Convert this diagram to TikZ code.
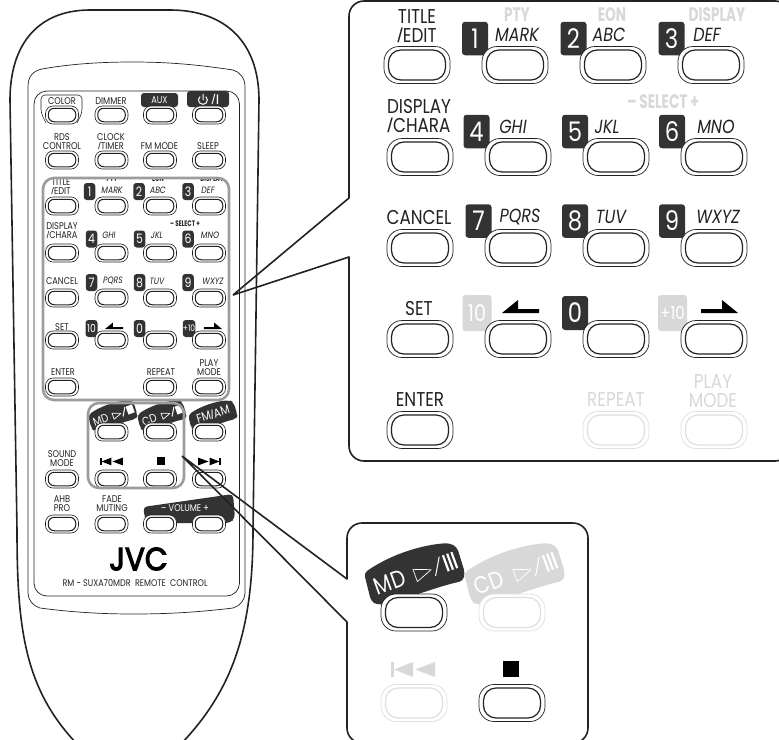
\documentclass[tikz,border=0pt]{standalone}
\usepackage{fontspec}
\setmainfont{Poppins}
\newfontfamily\fut[FakeStretch=0.84]{Poppins}
\newfontfamily\futb[FakeStretch=0.7]{Poppins}
\newfontfamily\jvcf[FakeBold=3.5,FakeStretch=0.92]{Poppins}
\newfontfamily\slf{Liberation Sans}
\newcommand\Sl{{\slf/}}
\definecolor{ink}{HTML}{222222}
\definecolor{tagdark}{HTML}{333333}
\definecolor{ghost}{HTML}{D8D8D8}
\definecolor{ghostline}{HTML}{DFDFDF}
\definecolor{frameg}{HTML}{9C9C9C}
\tikzset{
  lab/.style={inner sep=0pt,align=center,text=ink},
  big/.style={font=\fut\fontsize{20}{19}\selectfont},
  bigit/.style={font=\fut\itshape\fontsize{19}{19}\selectfont},
  bigbold/.style={font=\futb\bfseries\fontsize{19.5}{18}\selectfont,text=ghost},
  sm/.style={font=\fut\fontsize{9.8}{9}\selectfont},
  smit/.style={font=\fut\itshape\fontsize{9.2}{9}\selectfont},
  smbold/.style={font=\futb\bfseries\fontsize{8}{9}\selectfont},
  ghosted/.style={text=ghost},
  bigout/.style={draw=#1,line width=.7pt,fill=white,rectangle,minimum width=66pt,minimum height=37pt,rounded corners=15pt,inner sep=0pt},
  bigin/.style={draw=#1,line width=1.2pt,rectangle,minimum width=57pt,minimum height=30pt,rounded corners=12.5pt,inner sep=0pt},
  smout/.style={draw=ink,line width=.6pt,fill=white,rectangle,minimum width=33pt,minimum height=18pt,rounded corners=7.5pt,inner sep=0pt},
  smin/.style={draw=ink,line width=1pt,rectangle,minimum width=27.5pt,minimum height=13.5pt,rounded corners=6pt,inner sep=0pt},
  keytag/.style={rectangle,rounded corners=3pt,inner sep=0pt,text=white,align=center},
  bigline/.style={draw=ink,line width=1.6pt,line join=round},
  framing/.style={draw=frameg,line width=2.6pt,rounded corners=11pt},
  thinline/.style={draw=ink,line width=.7pt}
}
\newcounter{lb}
\newcommand\lbl[4][]{\stepcounter{lb}\node[lab,#1] (t\arabic{lb}) at (#2,#3) {#4};}
\newcommand\bigbtn[4]{\node[bigout=#4] (#1) at (#2,#3) {};\node[bigin=#4] (#1i) at (#2,#3) {};}
\newcommand\smbtn[3]{\node[smout] (#1) at (#2,#3) {};\node[smin] (#1i) at (#2,#3) {};}
% name x y w h fill text size
\newcommand\keyt[8]{\node[keytag,fill=#6,minimum width=#4pt,minimum height=#5pt,font=\fut\fontsize{#8}{#8}\selectfont] (#1) at (#2,#3) {#7};}
\newcommand\arrowL[3]{\fill[black] (#1,#2) ++(0,0) -- ++(16*#3,-13*#3) -- ++(0,9*#3) -- ++(21*#3,0) -- ++(0,4*#3) -- cycle;}
\newcommand\arrowR[3]{\fill[black] (#1,#2) -- ++(-16*#3,-13*#3) -- ++(0,9*#3) -- ++(-21*#3,0) -- ++(0,4*#3) -- cycle;}
% x y scale(sign = direction) colour
\newcommand\skipicon[4]{\begin{scope}[shift={(#1,#2)},xscale=#3,yscale=#3]
 \fill[#4] (0,-7.5) rectangle (3,7.5);
 \fill[#4] (3,0) -- (22,-7.5) -- (22,7.5) -- cycle;
 \fill[#4] (24,0) -- (44,-7.5) -- (44,7.5) -- cycle;
\end{scope}}
\newcommand\blobshape[1]{\fill[#1,rounded corners=4pt] (-51,-2) .. controls (-25,-20) and (5,-30) .. (34,-32) -- (42,-28) -- (50,-2) -- (48,6) .. controls (20,12) and (-10,25) .. (-38,30) -- (-44,26) -- cycle;}
% name x y scale fill fg text
\newcommand\playtag[7]{\begin{scope}[shift={(#2,#3)},scale=#4]
 \blobshape{#5}
 \begin{scope}[rotate=20,transform shape]
  \node[inner sep=0pt,anchor=base west,text=#6,font=\fut\fontsize{24}{24}\selectfont] (#1) at (-42,6.5) {#7};
  \draw[#6,line width=.7pt,line join=round] (0,-6) -- (0,7) -- (17,.5) -- cycle;
  \draw[#6,line width=1pt] (19,8) -- (29,-9);
  \draw[#6,line width=2.2pt] (33,-9) -- (33,8) (37.5,-9) -- (37.5,8) (42,-9) -- (42,8);
 \end{scope}
\end{scope}}
\begin{document}
\begin{tikzpicture}[x=1pt,y=-1pt]
\useasboundingbox (0,0) rectangle (779,739);
\fill[white] (0,0) rectangle (779,739);
% ---------- remote body
\draw[bigline] (78,745) .. controls (25,690) and (17,630) .. (17,530) -- (10,100) .. controls (10,42) and (40,10) .. (90,10) -- (170,10) .. controls (225,10) and (259,42) .. (259,100) -- (253,530) .. controls (253,630) and (233,690) .. (180,745);
\draw[thinline] (28,593) -- (28,87) .. controls (28,76) and (33,71) .. (42,69) .. controls (70,64) and (100,62) .. (133,62) .. controls (170,62) and (200,65) .. (233,70) .. controls (240,72) and (245,78) .. (245,87) -- (245,593) .. controls (245,600) and (240,606) .. (233,608) .. controls (200,612) and (170,614) .. (133,614) .. controls (100,614) and (70,612) .. (40,608) .. controls (33,606) and (28,600) .. (28,593) -- cycle;
\draw[thinline,rounded corners=13pt] (34,91) rectangle (239.5,596);
% ---------- remote tags
\draw[draw=ink,line width=.6pt,rounded corners=4pt] (46,123) -- (41,113) -- (41,95) -- (82,95) -- (82,113) -- (77,123);
\keyt{aux}{159.5}{100}{37}{14}{tagdark}{AUX}{9.8}
\keyt{pow}{208}{99}{42}{16}{tagdark}{}{9}
\draw[white,line width=1pt] (205.8,96.6) arc[start angle=-50,end angle=230,radius=4.4] (203,94) -- (203,100);
\lbl[font=\slf\fontsize{14}{14}\selectfont,text=white]{215.5}{99}{/I}
\foreach \n/\d/\x/\y in {a1/1/89.5/191.5,a2/2/139/191.5,a3/3/188/191.5,a4/4/91.5/239,a5/5/139.5/239,a6/6/188/239,a7/7/91.5/282.5,a8/8/139.5/282.5,a9/9/188/282.5,a0/0/139.5/328.5}
  {\keyt{\n}{\x}{\y}{11.5}{17}{tagdark}{\d}{13}}
\keyt{a10}{91.5}{328.5}{12}{17}{tagdark}{10}{11}
\keyt{a11}{189}{328.5}{12.5}{17}{tagdark}{+10}{9}
\playtag{rmd}{113}{416}{.49}{tagdark}{white}{MD}
\playtag{rcd}{162}{416}{.49}{tagdark}{white}{CD}
\begin{scope}[shift={(213,416)},scale=.49]\blobshape{tagdark}\end{scope}
\lbl[font=\fut\fontsize{12.5}{12.5}\selectfont,text=white,rotate=17]{213}{414}{FM{\slf/}AM}
\fill[tagdark,rounded corners=4pt] (143,507) -- (233,494) -- (235,518) -- (230,523) -- (146,523) -- cycle;
% ---------- remote buttons
\foreach \r/\y in {a/115,b/160,c/206,d/253,e/298,f/340,j/524}{
  \foreach \c/\x in {1/62,2/111.5,3/160,4/209}{\smbtn{r\r\c}{\x}{\y}}}
\foreach \c/\x in {1/62,3/160,4/209}{\smbtn{rh\c}{\x}{387}}
\foreach \c/\x in {2/111.5,3/160,4/209}{\smbtn{rg\c}{\x}{432}}
\foreach \c/\x in {1/62,2/111.5,3/160,4/209}{\smbtn{ri\c}{\x}{479}}
% ---------- remote labels
\lbl[sm]{62}{101}{COLOR}
\lbl[sm]{111}{101}{DIMMER}
\lbl[sm]{62}{141.5}{RDS\\CONTROL}
\lbl[sm]{111}{141.5}{CLOCK\\\Sl TIMER}
\lbl[sm]{159.5}{146}{FM MODE}
\lbl[sm]{208}{146}{SLEEP}
\begin{scope}
\clip (40,178) rectangle (240,200);
\lbl[sm]{61}{186.5}{TITLE\\\Sl EDIT}
\lbl[smbold]{112}{179}{PTY}
\lbl[smbold]{158}{179}{EON}
\lbl[smbold]{212}{179}{DISPLAY}
\end{scope}
\lbl[smit]{112}{190}{MARK}
\lbl[smit]{158}{190}{ABC}
\lbl[smit]{208}{190}{DEF}
\lbl[sm]{62}{231}{DISPLAY\\\Sl CHARA}
\lbl[smit]{109}{235}{GHI}
\lbl[smit]{157}{235}{JKL}
\lbl[smit]{210}{235}{MNO}
\lbl[smbold]{185}{224}{– SELECT +}
\lbl[sm]{62}{281}{CANCEL}
\lbl[smit]{113}{281}{PQRS}
\lbl[smit]{157}{281}{TUV}
\lbl[smit]{213}{281}{WXYZ}
\lbl[sm]{62}{327}{SET}
\arrowL{105}{329}{.49}
\arrowR{222}{329}{.49}
\lbl[sm]{63}{372}{ENTER}
\lbl[sm]{161}{372}{REPEAT}
\lbl[sm]{209}{367.5}{PLAY\\MODE}
\lbl[sm]{62}{458.5}{SOUND\\MODE}
\skipicon{100}{461.5}{.52}{black}
\fill[black] (157,457) rectangle (165,465);
\skipicon{221}{461.5}{-.52}{black}
\lbl[sm]{62}{504}{AHB\\PRO}
\lbl[sm]{112}{504}{FADE\\MUTING}
\lbl[sm,text=white]{185}{508}{– VOLUME +}
\lbl[font=\jvcf\fontsize{32}{32}\selectfont,text=black]{138.5}{559}{JVC}
\lbl[font=\fut\fontsize{9.6}{9.6}\selectfont]{135}{583}{RM - SUXA70MDR\ \ REMOTE\ \ CONTROL}
% ---------- selection frames
\draw[framing] (43,178) rectangle (229,400);
\draw[framing] (88,403) rectangle (184,488);
% ---------- callouts and panels
\coordinate (tipA) at (233,295);
\coordinate (tipB) at (182,456);
\coordinate (a1) at (349,198);
\coordinate (a2) at (349,257);
\coordinate (b1) at (347,579);
\coordinate (b2) at (347,622);
\draw[bigline] (tipA) -- (a1) [rounded corners=15pt] -- (349,1) -- (790,1) -- (790,461) -- (349,461) [sharp corners] -- (a2) -- (tipA);
\draw[bigline] (tipB) -- (b1) [rounded corners=15pt] -- (347,523) -- (588,523) -- (588,743) -- (347,743) [sharp corners] -- (b2) -- (tipB);
% ---------- big panel
\foreach \n/\d/\x/\y in {p1/1/475/38.5,p2/2/573.5/38.5,p3/3/671.5/38.5,p4/4/476.5/131.5,p5/5/575/131.5,p6/6/672/131.5,p7/7/478.5/221,p8/8/575/221,p9/9/672/221}
  {\keyt{\n}{\x}{\y}{26}{33.5}{tagdark}{\d}{27}}
\keyt{p0}{575}{313}{26}{34}{tagdark}{0}{27}
\keyt{p10}{477}{313}{29}{36}{ghost}{10}{23}
\keyt{p11}{672.5}{313}{29}{36}{ghost}{+10}{18}
\foreach \n/\x/\y in {q1/417/65,q2/515/65,q3/613/65,q4/711/65,q5/420/157,q6/518/157,q7/616/157,q8/714/157,q9/420/248,q10/518/248,q11/616/248,q12/714/248,q13/420/339,q14/518/339,q15/616/339,q16/714/339,q17/420/430}
  {\bigbtn{\n}{\x}{\y}{ink}}
\bigbtn{q18}{616}{430}{ghostline}
\bigbtn{q19}{714}{430}{ghostline}
\lbl[big]{417}{26.5}{TITLE\\\Sl EDIT}
\lbl[bigbold]{517}{15}{PTY}
\lbl[bigbold]{612}{15}{EON}
\lbl[bigbold]{717}{15}{DISPLAY}
\lbl[bigit]{517}{35}{MARK}
\lbl[bigit]{609}{35}{ABC}
\lbl[bigit]{707}{35}{DEF}
\lbl[big]{419}{116}{DISPLAY\\\Sl CHARA}
\lbl[bigit]{513}{127}{GHI}
\lbl[bigit]{607}{127}{JKL}
\lbl[bigit]{716}{127}{MNO}
\lbl[bigbold]{663}{102}{– SELECT +}
\lbl[big]{419}{217}{CANCEL}
\lbl[bigit]{520}{217}{PQRS}
\lbl[bigit]{611}{217}{TUV}
\lbl[bigit]{718}{217}{WXYZ}
\lbl[big]{419}{309}{SET}
\arrowL{502}{313}{1}
\arrowR{738}{313}{1}
\lbl[big]{420}{400}{ENTER}
\lbl[big,ghosted]{616}{400}{REPEAT}
\lbl[big,ghosted]{713}{391}{PLAY\\MODE}
% ---------- small panel
\playtag{smd}{415}{575}{1}{tagdark}{white}{MD}
\playtag{scd}{515}{575}{1}{ghost}{white}{CD}
\bigbtn{s1}{414}{612.5}{ink}
\bigbtn{s2}{512}{612.5}{ghostline}
\skipicon{391}{669.5}{1}{ghost}
\bigbtn{s3}{414}{703}{ghostline}
\fill[black] (503,661) rectangle (519,677);
\bigbtn{s4}{512}{703}{ink}
\end{tikzpicture}
\end{document}
